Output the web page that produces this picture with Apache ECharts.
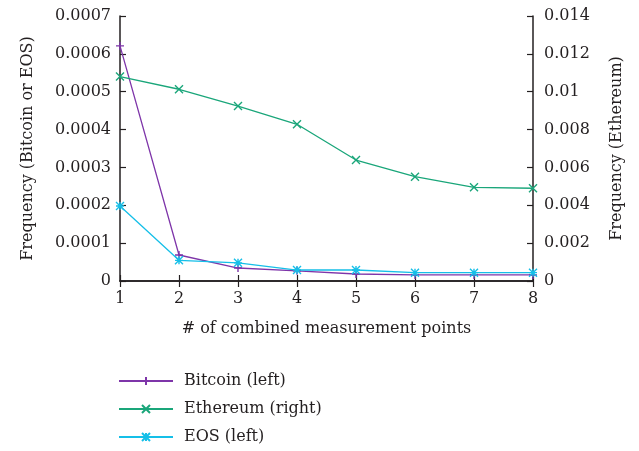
<!DOCTYPE html>
<html><head><meta charset="utf-8">
<script src="https://cdn.jsdelivr.net/npm/echarts@6/dist/echarts.min.js"></script>
<style>html,body{margin:0;padding:0;background:#fff}#c{width:639px;height:451px}</style>
</head><body><div id="c"></div>
<script>
const xs = [1, 2, 3, 4, 5, 6, 7, 8];
const bitcoin = [0.000621, 0.0000687, 0.0000343, 0.000027, 0.0000185, 0.000016, 0.000016, 0.000016];
const ethereum = [0.0108, 0.01013, 0.00924, 0.00828, 0.00639, 0.00551, 0.00495, 0.0049];
const eos = [0.000198, 0.0000546, 0.000048, 0.000029, 0.000029, 0.000022, 0.000022, 0.000022];
const leftTicks = ['0', '0.0001', '0.0002', '0.0003', '0.0004', '0.0005', '0.0006', '0.0007'];
const rightTicks = ['0', '0.002', '0.004', '0.006', '0.008', '0.01', '0.012', '0.014'];

const FONT = 'DejaVu Serif';
const FS = 16;
const TXT = '#231f20';
const AX = '#231f20';
const pair = arr => arr.map((v, i) => [xs[i], v]);
const plusPath = 'path://M0,5L10,5M5,0L5,10';
const xPath = 'path://M0,0L10,10M0,10L10,0';
const starPath = 'path://M0,0L10,10M0,10L10,0M0,5L10,5M5,0L5,10';

function ser(name, data, color, sym, yIdx) {
  return {
    name, type: 'line', data: pair(data), yAxisIndex: yIdx,
    symbol: sym, symbolSize: 8,
    lineStyle: { color, width: 1.3 },
    itemStyle: { color: 'rgba(0,0,0,0)', borderColor: color, borderWidth: 1.4 },
    emphasis: { disabled: true }, animation: false
  };
}

const chart = echarts.init(document.getElementById('c'));
chart.setOption({
  animation: false,
  grid: { left: 120, right: 106, top: 16, bottom: 170, containLabel: false },
  xAxis: [{
    type: 'value', min: 1, max: 8, interval: 1, position: 'bottom',
    name: '# of combined measurement points', nameLocation: 'middle', nameGap: 40,
    nameTextStyle: { fontFamily: FONT, fontSize: FS, color: TXT },
    axisLine: { lineStyle: { color: AX, width: 1.5 } },
    axisTick: { inside: true, length: 6, lineStyle: { color: AX, width: 1.2 } },
    axisLabel: { fontFamily: FONT, fontSize: FS, color: TXT, margin: 10 },
    splitLine: { show: false }
  }, {
    type: 'value', min: 1, max: 8, interval: 1, position: 'top',
    axisLine: { show: true, lineStyle: { color: AX, width: 1.5 } },
    axisTick: { inside: true, length: 6, lineStyle: { color: AX, width: 1.2 } },
    axisLabel: { show: false }, splitLine: { show: false }
  }],
  yAxis: [{
    type: 'value', min: 0, max: 0.0007, interval: 0.0001, position: 'left',
    name: 'Frequency (Bitcoin or EOS)', nameLocation: 'middle', nameGap: 84, nameRotate: 90,
    nameTextStyle: { fontFamily: FONT, fontSize: FS, color: TXT },
    axisLine: { show: true, lineStyle: { color: AX, width: 1.5 } },
    axisTick: { show: true, inside: true, length: 6, lineStyle: { color: AX, width: 1.2 } },
    axisLabel: { fontFamily: FONT, fontSize: FS, color: TXT, margin: 9,
      formatter: (v) => leftTicks[Math.round(v / 0.0001)] },
    splitLine: { show: false }
  }, {
    type: 'value', min: 0, max: 0.014, interval: 0.002, position: 'right',
    name: 'Frequency (Ethereum)', nameLocation: 'middle', nameGap: 76, nameRotate: 90,
    nameTextStyle: { fontFamily: FONT, fontSize: FS, color: TXT },
    axisLine: { show: true, lineStyle: { color: AX, width: 1.5 } },
    axisTick: { show: true, inside: true, length: 6, lineStyle: { color: AX, width: 1.2 } },
    axisLabel: { fontFamily: FONT, fontSize: FS, color: TXT, margin: 11,
      formatter: (v) => rightTicks[Math.round(v / 0.002)] },
    splitLine: { show: false }
  }],
  legend: {
    orient: 'vertical', left: 118, top: 372, padding: 0,
    itemWidth: 54, itemHeight: 10, itemGap: 10,
    textStyle: { fontFamily: FONT, fontSize: FS, color: TXT, lineHeight: 18, padding: [0, 0, 0, 6] },
    data: ['Bitcoin (left)', 'Ethereum (right)', 'EOS (left)']
  },
  series: [
    ser('Bitcoin (left)', bitcoin, '#7e35a9', plusPath, 0),
    ser('Ethereum (right)', ethereum, '#1aa67a', xPath, 1),
    ser('EOS (left)', eos, '#15bfe8', starPath, 0)
  ]
});
</script></body></html>
